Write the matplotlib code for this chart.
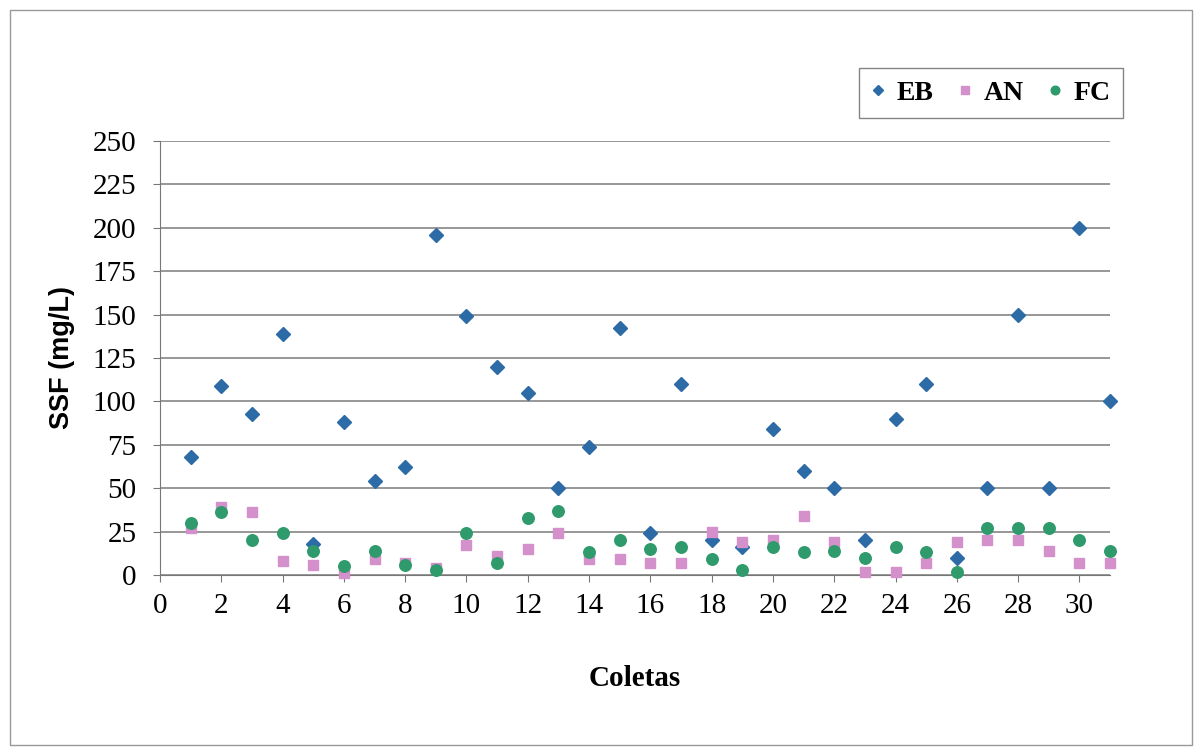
import matplotlib.pyplot as plt
from matplotlib.patches import Rectangle

# coletas 1..31
coletas = list(range(1, 32))

eb = [68, 109, 93, 139, 18, 88, 54, 62, 196, 149, 120, 105, 50, 74, 142, 24,
      110, 20, 16, 84, 60, 50, 20, 90, 110, 10, 50, 150, 50, 200, 100]
an = [27, 39, 36, 8, 6, 1, 9, 7, 4, 17, 11, 15, 24, 9, 9, 7,
      7, 25, 19, 20, 34, 19, 2, 2, 7, 19, 20, 20, 14, 7, 7]
fc = [30, 36, 20, 24, 14, 5, 14, 6, 3, 24, 7, 33, 37, 13, 20, 15,
      16, 9, 3, 16, 13, 14, 10, 16, 13, 2, 27, 27, 27, 20, 14]

xticks = list(range(0, 31, 2))
yticks = list(range(0, 251, 25))

plt.rcParams['font.family'] = ['Liberation Serif', 'DejaVu Serif']

fig = plt.figure(figsize=(12.02, 7.52), dpi=100)
ax = fig.add_axes([0.1331, 0.2354, 0.7904, 0.5771])

ax.plot(coletas, eb, linestyle='none', marker='D', markersize=6.8,
        color='#2D6BA6', label='EB', clip_on=False, zorder=3)
ax.plot(coletas, an, linestyle='none', marker='s', markersize=7.8,
        color='#D490CA', label='AN', clip_on=False, zorder=3)
ax.plot(coletas, fc, linestyle='none', marker='o', markersize=8.3,
        color='#2F9A6B', label='FC', clip_on=False, zorder=4)

ax.set_xlim(0, 31)
ax.set_ylim(0, 250)
ax.set_xticks(xticks)
ax.set_yticks(yticks)
ax.tick_params(axis='both', labelsize=21, length=5, color='#777777')
ax.tick_params(axis='y', pad=12)
ax.tick_params(axis='x', pad=8)

ax.yaxis.grid(True, color='#7a7a7a', linewidth=1.1)
ax.set_axisbelow(True)
for s in ['top', 'right']:
    ax.spines[s].set_visible(False)
ax.spines['left'].set_color('#777777')
ax.spines['bottom'].set_color('#777777')

ax.set_ylabel('SSF (mg/L)', fontsize=19.5, fontweight='bold', labelpad=13,
              family=['Liberation Sans', 'DejaVu Sans'])
ax.set_xlabel('Coletas', fontsize=21, fontweight='bold', labelpad=33)

leg = ax.legend(loc='upper right', bbox_to_anchor=(1123 / 1202, 1 - 68 / 752),
                bbox_transform=fig.transFigure, borderaxespad=0, ncol=3,
                prop={'size': 20, 'weight': 'bold'}, frameon=True,
                fancybox=False, edgecolor='#666666', markerscale=0.75,
                handlelength=0.5, handletextpad=0.4, columnspacing=0.9,
                borderpad=0.45)

# outer chart border
fig.patches.append(Rectangle((10 / 1202, 7 / 752), 1182 / 1202, 735 / 752,
                             transform=fig.transFigure, fill=False,
                             edgecolor='#999999', linewidth=1.0))

fig.savefig('out.png', dpi=100)
